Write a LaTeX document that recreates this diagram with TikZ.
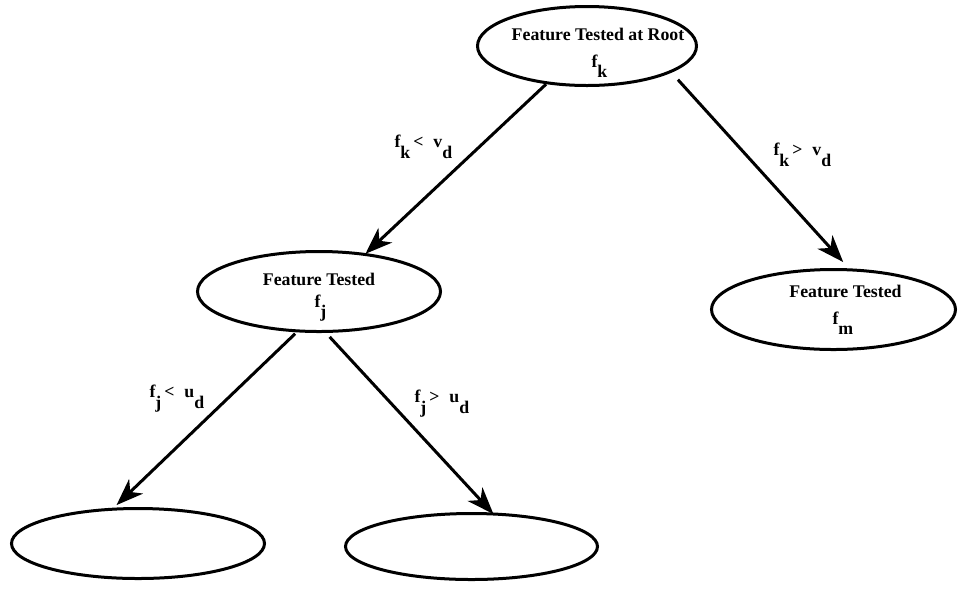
\documentclass[tikz,border=0pt]{standalone}
\usepackage{fontspec}
\setmainfont{Liberation Serif}
\usetikzlibrary{shapes.geometric,arrows.meta}
\newcommand{\lowsub}[2][5pt]{\raisebox{-#1}{#2}}
\begin{document}
\begin{tikzpicture}[x=0.5pt, y=-0.5pt, line width=1.5pt,
        >={Stealth[length=13.5pt, width=10pt, inset=4pt]},
        feat/.style={ellipse, draw=black, fill=white, outer sep=0pt, inner sep=0pt},
        txt/.style={inner sep=0pt, font=\fontsize{8.9}{10.7}\selectfont\bfseries}]
        \useasboundingbox (0,0) rectangle (959,591);

        % Feature nodes
        \node[feat, minimum width=109.5pt, minimum height=39.5pt] (root) at (587,46) {};
        \node[feat, minimum width=121.5pt, minimum height=40pt] (fj) at (319,291.5) {};
        \node[feat, minimum width=122pt, minimum height=40pt] (fm) at (833.5,309.5) {};
        \node[feat, minimum width=126.5pt, minimum height=35pt] (leafl) at (138,543.5) {};
        \node[feat, minimum width=126pt, minimum height=33pt] (leafr) at (471.5,546.5) {};

        % Texts inside the nodes
        \node[txt, anchor=base] (roottitle) at (598,40) {Feature Tested at Root};
        \node[txt, anchor=base west] (rootf) at (590,67) {f\lowsub{k}};
        \node[txt, anchor=base] (fjtitle) at (319,285) {Feature Tested};
        \node[txt, anchor=base west] (fjf) at (313,307) {f\lowsub{j}};
        \node[txt, anchor=base] (fmtitle) at (845.5,297) {Feature Tested};
        \node[txt, anchor=base west] (fmf) at (831,324) {f\lowsub{m}};

        % Branches
        \draw[->, shorten <=1pt, shorten >=0.5pt] (root.223.5) -- (fj.39);
        \draw[->, shorten <=5.5pt, shorten >=5.3pt] (root.343) -- (fm.67);
        \draw[->, shorten <=2pt, shorten >=3pt] (fj.242) -- (leafl.127);
        \draw[->, shorten <=3.7pt] (fj.278.5) -- (leafr.56);

        % Branch conditions
        \node[txt, anchor=base west] (condkl) at (393,147) {f\lowsub[5.5pt]{k}\hspace{1.5pt}<\hspace{5pt}v\lowsub[5.5pt]{d}};
        \node[txt, anchor=base west] (condkg) at (772,155) {f\lowsub[5.5pt]{k}\hspace{1.5pt}>\hspace{5pt}v\lowsub[5.5pt]{d}};
        \node[txt, anchor=base west] (condjl) at (148,397) {f\lowsub[5.5pt]{j}\hspace{1.5pt}<\hspace{5pt}u\lowsub[5.5pt]{d}};
        \node[txt, anchor=base west] (condjg) at (413,402) {f\lowsub[5.5pt]{j}\hspace{1.5pt}>\hspace{5pt}u\lowsub[5.5pt]{d}};
\end{tikzpicture}
\end{document}
